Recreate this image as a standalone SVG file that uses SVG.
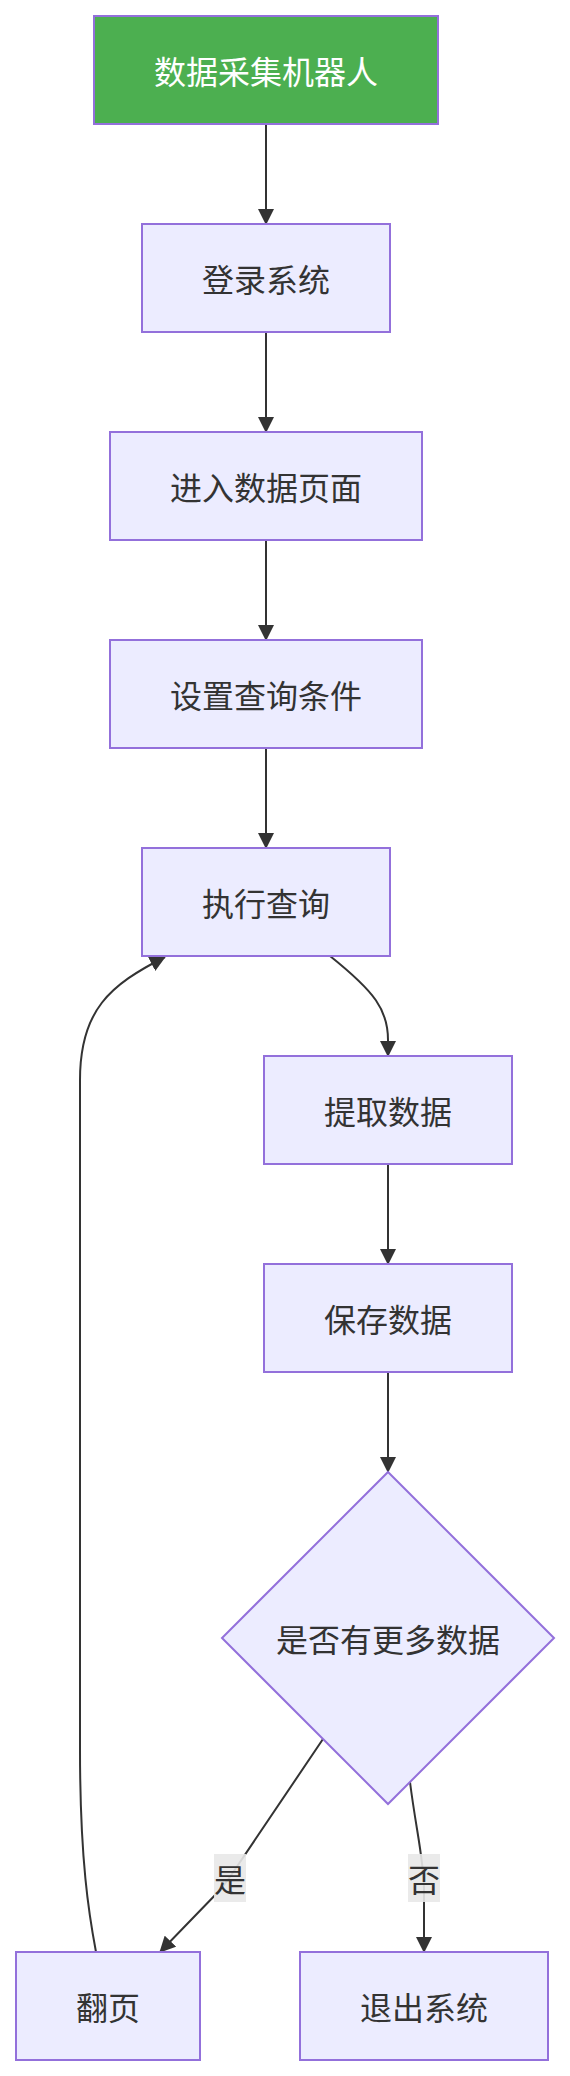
<svg xmlns="http://www.w3.org/2000/svg" width="570" height="2076" viewBox="0 0 570 2076">
<style>
.node rect,.node polygon{fill:#ECECFF;stroke:#9370DB;stroke-width:2}
.node text,.lbl text{font-family:"Noto Sans CJK SC","Noto Sans",sans-serif;font-size:32px;fill:#333;text-anchor:middle;dominant-baseline:central}
.start rect{fill:#4CAF50}
.start text{fill:#ffffff}
.edge{fill:none;stroke:#333;stroke-width:2}
.lbl rect{fill:#e8e8e8;opacity:0.9}
</style>
<defs>
<marker id="arr" markerUnits="userSpaceOnUse" markerWidth="16" markerHeight="16" refX="15" refY="8" orient="auto">
<path d="M0,0 L16,8 L0,16 z" fill="#333"/>
</marker>
</defs>
<rect width="570" height="2076" fill="#ffffff"/>
<g id="connectors">
<path class="edge" d="M266,124 L266,224" marker-end="url(#arr)"/>
<path class="edge" d="M266,332 L266,432" marker-end="url(#arr)"/>
<path class="edge" d="M266,540 L266,640" marker-end="url(#arr)"/>
<path class="edge" d="M266,748 L266,848" marker-end="url(#arr)"/>
<path class="edge" d="M330,956 C375,992 388,1010 388,1040 L388,1056" marker-end="url(#arr)"/>
<path class="edge" d="M388,1164 L388,1264" marker-end="url(#arr)"/>
<path class="edge" d="M388,1372 L388,1472" marker-end="url(#arr)"/>
<path class="edge" d="M323,1739 L236,1868 Q229,1879 220,1890 L160,1952" marker-end="url(#arr)"/>
<path class="edge" d="M410,1782 C416,1830 424,1860 424,1890 L424,1952" marker-end="url(#arr)"/>
<path class="edge" d="M96,1952 C89,1915 80,1860 80,1750 L80,1080 C80,1010 110,985 165,957" marker-end="url(#arr)"/>
<g class="lbl" id="label-yes"><rect x="214" y="1854" width="32" height="48"/><text x="230" y="1878">是</text></g>
<g class="lbl" id="label-no"><rect x="408" y="1854" width="32" height="48"/><text x="424" y="1878">否</text></g>
</g>
<g id="n-start" class="node start"><rect x="94" y="16" width="344" height="108"/><text x="266" y="70">数据采集机器人</text></g>
<g id="n-login" class="node"><rect x="142" y="224" width="248" height="108"/><text x="266" y="278">登录系统</text></g>
<g id="n-enter" class="node"><rect x="110" y="432" width="312" height="108"/><text x="266" y="486">进入数据页面</text></g>
<g id="n-setq" class="node"><rect x="110" y="640" width="312" height="108"/><text x="266" y="694">设置查询条件</text></g>
<g id="n-exec" class="node"><rect x="142" y="848" width="248" height="108"/><text x="266" y="902">执行查询</text></g>
<g id="n-extract" class="node"><rect x="264" y="1056" width="248" height="108"/><text x="388" y="1110">提取数据</text></g>
<g id="n-save" class="node"><rect x="264" y="1264" width="248" height="108"/><text x="388" y="1318">保存数据</text></g>
<g id="n-more" class="node"><polygon points="388,1472 554,1638 388,1804 222,1638"/><text x="388" y="1638">是否有更多数据</text></g>
<g id="n-next" class="node"><rect x="16" y="1952" width="184" height="108"/><text x="108" y="2006">翻页</text></g>
<g id="n-exit" class="node"><rect x="300" y="1952" width="248" height="108"/><text x="424" y="2006">退出系统</text></g>
</svg>
